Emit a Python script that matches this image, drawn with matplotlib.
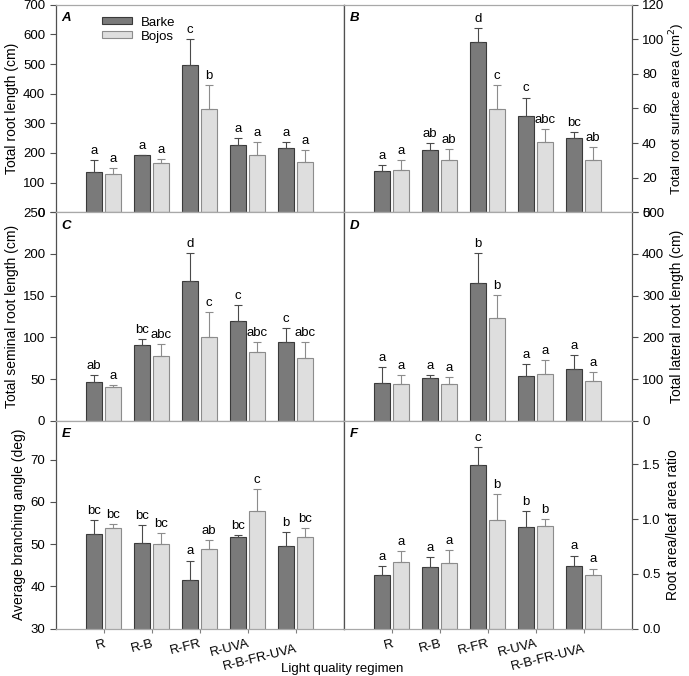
import numpy as np
import matplotlib
matplotlib.use("Agg")
import matplotlib.pyplot as plt
from matplotlib.transforms import ScaledTranslation

plt.rcParams['font.family'] = ['Liberation Sans', 'DejaVu Sans']
plt.rcParams['font.size'] = 9.5

regimens = ['R', 'R-B', 'R-FR', 'R-UVA', 'R-B-FR-UVA']

# panel A - total root length (cm)
a_barke = [136, 193, 498, 227, 218]
a_barke_se = [40, 0, 86, 24, 18]
a_bojos = [129, 166, 349, 194, 169]
a_bojos_se = [19, 13, 80, 42, 42]
a_letters = [['a', 'a', 'c', 'a', 'a'], ['a', 'a', 'b', 'a', 'a']]

# panel B - total root surface area (cm2)
b_barke = [23.6, 35.9, 98.7, 55.8, 42.9]
b_barke_se = [3.8, 4.1, 7.8, 10.5, 3.3]
b_bojos = [24.7, 30.5, 59.5, 40.6, 30.5]
b_bojos_se = [5.3, 6.2, 14.1, 7.5, 7.4]
b_letters = [['a', 'ab', 'd', 'c', 'bc'], ['a', 'ab', 'c', 'abc', 'ab']]

# panel C - total seminal root length (cm)
c_barke = [46, 90.8, 167.2, 119.2, 94]
c_barke_se = [8.4, 7.2, 34, 20, 16.8]
c_bojos = [40, 77.2, 100, 82, 74.8]
c_bojos_se = [2.4, 14.4, 30, 12, 20]
c_letters = [['ab', 'bc', 'd', 'c', 'c'], ['a', 'abc', 'c', 'abc', 'abc']]

# panel D - total lateral root length (cm)
d_barke = [90.4, 101.6, 329.6, 108, 123.2]
d_barke_se = [37.6, 7.2, 72.8, 28.8, 33.6]
d_bojos = [87.2, 88.8, 247.2, 111.2, 94.4]
d_bojos_se = [21.6, 15.2, 53.6, 33.6, 23.2]
d_letters = [['a', 'a', 'b', 'a', 'a'], ['a', 'a', 'b', 'a', 'a']]

# panel E - average branching angle (deg)
e_barke = [52.4, 50.3, 41.4, 51.7, 49.5]
e_barke_se = [3.3, 4.1, 4.7, 0.4, 3.3]
e_bojos = [53.9, 50.1, 48.9, 57.9, 51.6]
e_bojos_se = [0.8, 2.5, 2.0, 5.2, 2.2]
e_letters = [['bc', 'bc', 'a', 'bc', 'b'], ['bc', 'bc', 'ab', 'c', 'bc']]

# panel F - root area / leaf area ratio
f_barke = [0.485, 0.558, 1.497, 0.927, 0.573]
f_barke_se = [0.085, 0.094, 0.161, 0.143, 0.094]
f_bojos = [0.612, 0.597, 0.988, 0.936, 0.485]
f_bojos_se = [0.10, 0.118, 0.239, 0.061, 0.063]
f_letters = [['a', 'a', 'c', 'b', 'a'], ['a', 'a', 'b', 'b', 'a']]

dark = '#7a7a7a'
light = '#dedede'

fig = plt.figure(figsize=(6.89, 6.76), dpi=100)
W, H = 689, 676
lefts = [55.7, 343.7]
rows = [(4.7, 212.3), (212.3, 420.7), (420.7, 628.5)]

panels = [
    ('A', a_barke, a_barke_se, a_bojos, a_bojos_se, a_letters, (0, 700), np.arange(0, 701, 100), 'Total root length (cm)', '%d'),
    ('B', b_barke, b_barke_se, b_bojos, b_bojos_se, b_letters, (0, 120), np.arange(0, 121, 20), 'Total root surface area (cm$^2$)', '%d'),
    ('C', c_barke, c_barke_se, c_bojos, c_bojos_se, c_letters, (0, 250), np.arange(0, 251, 50), 'Total seminal root length (cm)', '%d'),
    ('D', d_barke, d_barke_se, d_bojos, d_bojos_se, d_letters, (0, 500), np.arange(0, 501, 100), 'Total lateral root length (cm)', '%d'),
    ('E', e_barke, e_barke_se, e_bojos, e_bojos_se, e_letters, (30, 79.2), np.arange(30, 71, 10), 'Average branching angle (deg)', '%d'),
    ('F', f_barke, f_barke_se, f_bojos, f_bojos_se, f_letters, (0, 1.9), np.arange(0, 1.51, 0.5), 'Root area/leaf area ratio', '%.1f'),
]

x = np.arange(1, 6)
bw = 0.33
off = 0.198

for i, (lab, bk, bk_se, bj, bj_se, letters, ylim, yt, ylab, fmt) in enumerate(panels):
    r, c = divmod(i, 2)
    top, bot = rows[r]
    ax = fig.add_axes([lefts[c] / W, 1 - bot / H, 288 / W, (bot - top) / H])
    ax.bar(x - off, bk, bw, color=dark, edgecolor='#3a3a3a', linewidth=0.8, zorder=2, label='Barke')
    ax.bar(x + off, bj, bw, color=light, edgecolor='#8c8c8c', linewidth=0.8, zorder=2, label='Bojos')
    ax.errorbar(x - off, bk, yerr=[np.zeros(5), bk_se], fmt='none', ecolor='#4a4a4a',
                elinewidth=0.8, capsize=3, capthick=0.8, zorder=3)
    ax.errorbar(x + off, bj, yerr=[np.zeros(5), bj_se], fmt='none', ecolor='#8c8c8c',
                elinewidth=0.8, capsize=3, capthick=0.8, zorder=3)
    span = ylim[1] - ylim[0]
    for j in range(5):
        ax.text(x[j] - off, bk[j] + bk_se[j] + span * 0.015, letters[0][j], ha='center', va='bottom', fontsize=9.5)
        ax.text(x[j] + off, bj[j] + bj_se[j] + span * 0.015, letters[1][j], ha='center', va='bottom', fontsize=9.5)
    ax.set_xlim(0, 6)
    ax.set_ylim(*ylim)
    ax.set_yticks(yt)
    ax.set_yticklabels([fmt % v for v in yt])
    ax.set_xticks(x)
    ax.tick_params(axis='x', direction='out', length=3, color='#808080')
    ax.tick_params(axis='y', direction='out', length=4, color='#505050', labelsize=9.5)
    for s in ['top', 'bottom']:
        ax.spines[s].set_color('#a8a8a8')
    for s in ['left', 'right']:
        ax.spines[s].set_color('#505050')
    for s in ax.spines.values():
        s.set_linewidth(0.9)
    if c == 1:
        ax.yaxis.tick_right()
        ax.yaxis.set_label_position('right')
        ax.set_ylabel(ylab, fontsize=9.6 if lab == 'B' else 10, labelpad=2 if lab == 'B' else 4)
    else:
        ax.set_ylabel(ylab, fontsize=10, labelpad=3)
    ax.text(0.02, 0.965, lab, transform=ax.transAxes, fontsize=9.5,
            fontweight='bold', fontstyle='italic', va='top', ha='left')
    if r == 2:
        ax.set_xticklabels(regimens, rotation=14, ha='right', rotation_mode='anchor', fontsize=9.5)
        last = ax.get_xticklabels()[-1]
        last.set_transform(last.get_transform() + ScaledTranslation(0, -4 / 72, fig.dpi_scale_trans))
    else:
        ax.set_xticklabels([])
    if lab == 'A':
        ax.legend(loc='upper left', bbox_to_anchor=(0.12, 1.0), frameon=False,
                  fontsize=9.5, handlelength=2.3, handleheight=0.45, labelspacing=0.15,
                  handletextpad=0.6)

fig.text(0.497, 0.002, 'Light quality regimen', ha='center', va='bottom', fontsize=9.5)

fig.savefig('out.png', dpi=100)
